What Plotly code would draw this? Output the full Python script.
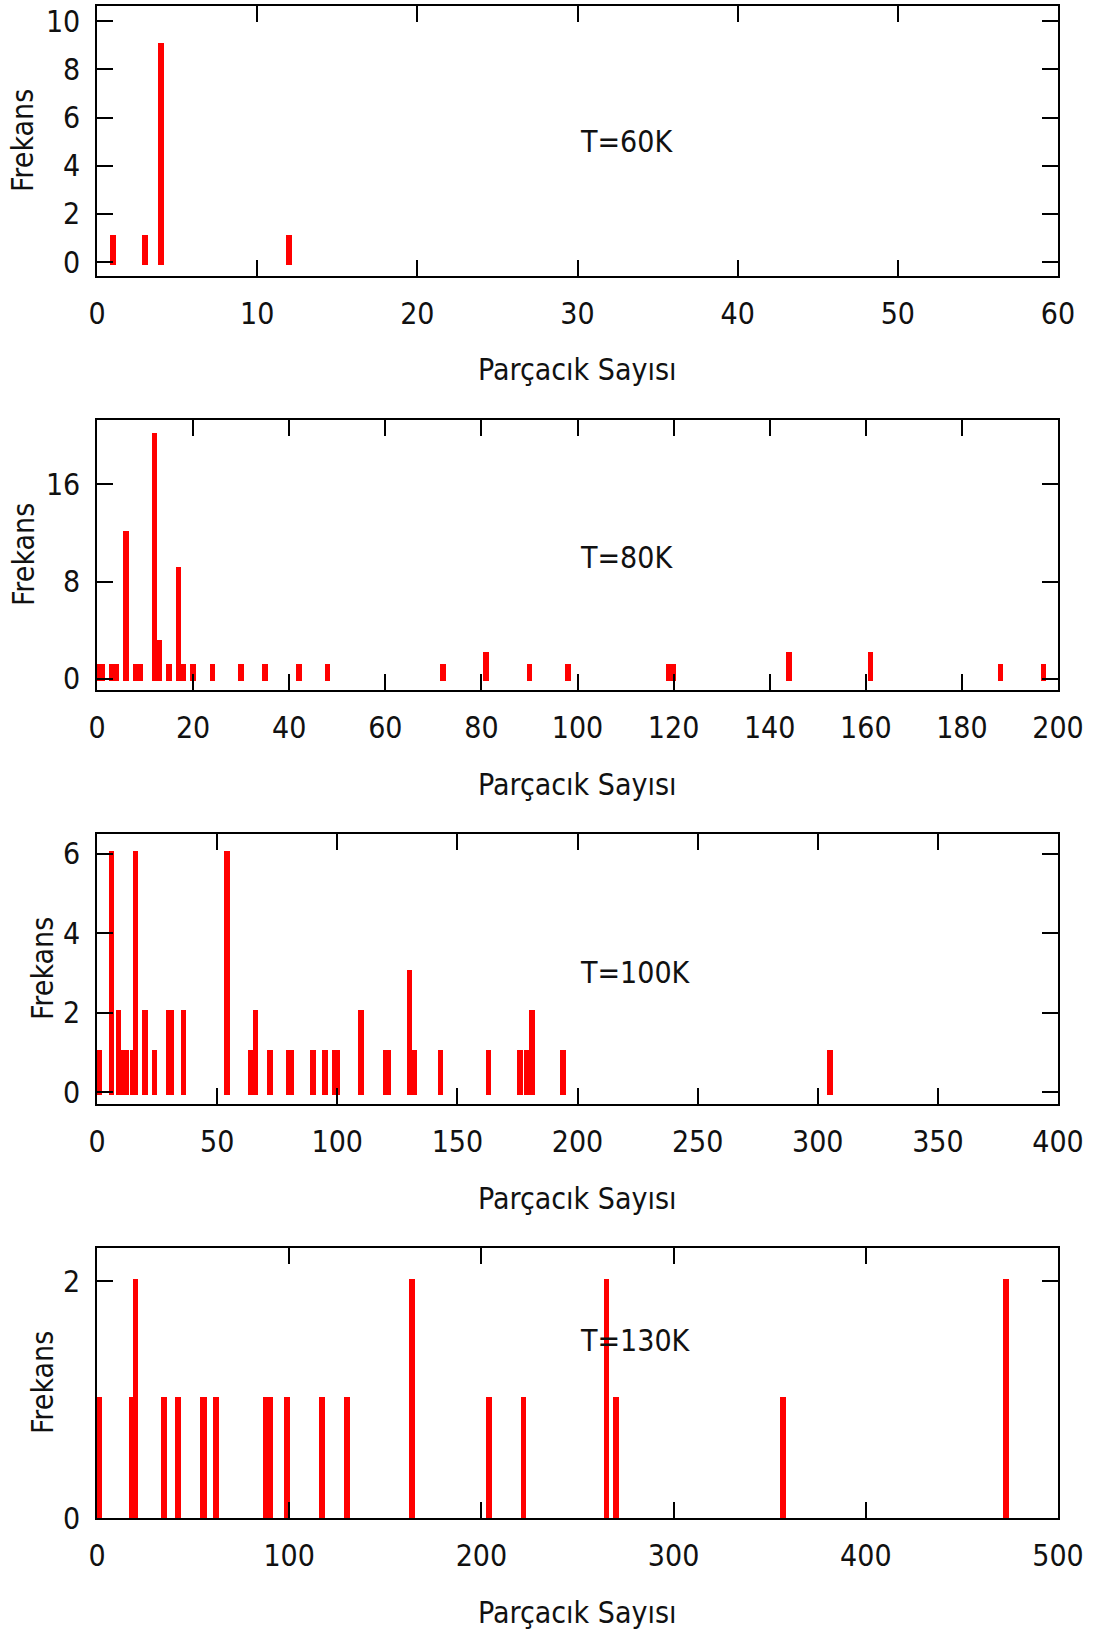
import plotly.graph_objects as go

# ---------------- data ----------------
# T = 60K
x60 = [1, 3, 4, 12]
f60 = [1, 1, 9, 1]

# T = 80K
x80 = [0, 1, 3, 4, 6, 8, 9, 12, 13, 15, 17, 18, 20, 24, 30, 35, 42, 48,
       72, 81, 90, 98, 119, 120, 144, 161, 188, 197]
f80 = [1, 1, 1, 1, 12, 1, 1, 20, 3, 1, 9, 1, 1, 1, 1, 1, 1, 1,
       1, 2, 1, 1, 1, 1, 2, 2, 1, 1]

# T = 100K
x100 = [1, 6, 9, 11, 12, 15, 16, 20, 24, 30, 31, 36, 54, 64, 66, 72, 80, 81,
        90, 95, 99, 100, 110, 120, 121, 130, 132, 143, 163, 176, 179, 181, 194, 305]
f100 = [1, 6, 2, 1, 1, 1, 6, 2, 1, 2, 2, 2, 6, 1, 2, 1, 1, 1,
        1, 1, 1, 1, 2, 1, 1, 3, 1, 1, 1, 1, 1, 2, 1, 1]

# T = 130K
x130 = [1, 18, 20, 35, 42, 55, 56, 62, 88, 90, 99, 117, 130, 164, 204, 222,
        265, 270, 357, 473]
f130 = [1, 1, 2, 1, 1, 1, 1, 1, 1, 1, 1, 1, 1, 2, 1, 1,
        2, 1, 1, 2]

labels = ["T=60K", "T=80K", "T=100K", "T=130K"]
label_x = [30, 100, 200, 250]
label_y = [5, 10, 3, 1.5]

x_ranges = [[0, 60], [0, 200], [0, 400], [0, 500]]
x_dticks = [10, 20, 50, 100]
y_ranges = [[-0.58, 10.63], [-0.91, 21.3], [-0.3, 6.5], [0, 2.28]]
y_ticks = [[0, 2, 4, 6, 8, 10], [0, 8, 16], [0, 2, 4, 6], [0, 2]]

xlabel = "Parçacık Sayısı"
ylabel = "Frekans"

# ---------------- layout constants (pixels) ----------------
W, H = 1094, 1636
PL, PR = 97, 1058
PH = 270
tops = [6, 420, 834, 1248]
ytitle_x = [23, 23, 42, 42]
BAR_PX = 5.6
CAP_PX = 2.5

FONT_FAMILY = "DejaVu Sans Condensed, Liberation Sans, sans-serif"
FONT = dict(family=FONT_FAMILY, size=30, color="#111111")

series = [(x60, f60), (x80, f80), (x100, f100), (x130, f130)]

fig = go.Figure()
annotations = []
for i, (xs_, ys_) in enumerate(series):
    n = "" if i == 0 else str(i + 1)
    xr, yr = x_ranges[i], y_ranges[i]
    xscale = (xr[1] - xr[0]) / (PR - PL)
    yscale = (yr[1] - yr[0]) / PH
    w = BAR_PX * xscale
    cap = CAP_PX * yscale
    fig.add_trace(go.Bar(
        x=xs_, y=[v + 2 * cap for v in ys_], base=-cap, width=w,
        marker=dict(color="#ff0000", line=dict(width=0)),
        xaxis="x" + n, yaxis="y" + n, showlegend=False,
        customdata=ys_, hovertemplate="%{x}: %{customdata}<extra></extra>",
    ))
    top = tops[i]
    common = dict(ticks="inside", ticklen=16, tickwidth=1.5, tickcolor="black",
                  showline=True, linecolor="black", linewidth=1.5, mirror="ticks",
                  showgrid=False, zeroline=False, tickfont=FONT)
    fig.layout["xaxis" + n] = dict(domain=[PL / W, PR / W], anchor="y" + n,
                                   range=xr, tick0=0, dtick=x_dticks[i],
                                   ticklabelstandoff=10, **common)
    fig.layout["yaxis" + n] = dict(domain=[(H - top - PH) / H, (H - top) / H],
                                   anchor="x" + n, range=yr, tickvals=y_ticks[i],
                                   ticklabelstandoff=9, **common)
    annotations.append(dict(text=labels[i], x=label_x[i], y=label_y[i],
                            xref="x" + n, yref="y" + n, xanchor="left",
                            yanchor="middle", showarrow=False, font=FONT))
    annotations.append(dict(text=xlabel, x=(PL + PR) / 2 / W, y=(H - (top + PH + 94)) / H,
                            xref="paper", yref="paper", xanchor="center",
                            yanchor="middle", showarrow=False, font=FONT))
    annotations.append(dict(text=ylabel, x=ytitle_x[i] / W, y=(H - (top + PH / 2)) / H,
                            xref="paper", yref="paper", xanchor="center",
                            yanchor="middle", textangle=-90, showarrow=False, font=FONT))

fig.update_layout(
    width=W, height=H,
    margin=dict(l=0, r=0, t=0, b=0, autoexpand=False),
    paper_bgcolor="white", plot_bgcolor="white",
    barmode="overlay", bargap=0,
    annotations=annotations,
    font=FONT,
)

fig.write_html("out.html", config={"displayModeBar": False},
               post_script="document.body.style.margin='0';document.body.style.padding='0';")
